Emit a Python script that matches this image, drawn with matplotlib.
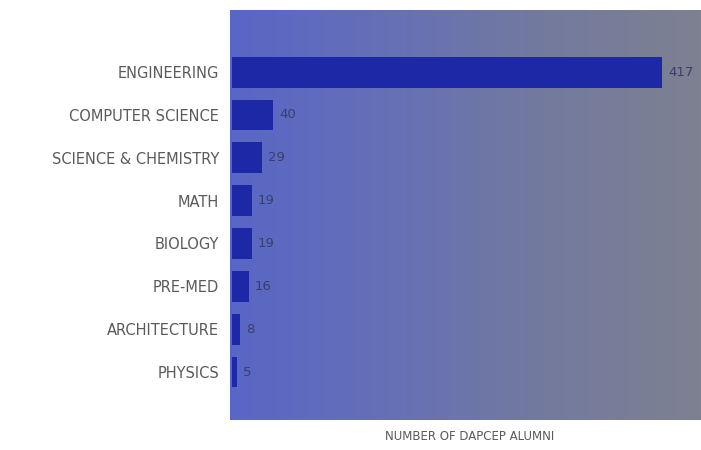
import numpy as np
import matplotlib
matplotlib.use("Agg")
import matplotlib.pyplot as plt
from matplotlib.colors import LinearSegmentedColormap

majors = ["ENGINEERING", "COMPUTER SCIENCE", "SCIENCE & CHEMISTRY", "MATH",
          "BIOLOGY", "PRE-MED", "ARCHITECTURE", "PHYSICS"]
alumni = [417, 40, 29, 19, 19, 16, 8, 5]

fig = plt.figure(figsize=(7.01, 4.5), dpi=100)
fig.patch.set_facecolor("white")
ax = fig.add_axes([230 / 701, 30 / 450, 471 / 701, 410 / 450])

# horizontal blue-to-grey gradient panel
grad = LinearSegmentedColormap.from_list(
    "panel", ["#5866c6", "#6670b6", "#737a9e", "#7e8191"])
ax.imshow(np.linspace(0, 1, 256)[None, :], cmap=grad, aspect="auto",
          extent=[0, 1, 0, 1], transform=ax.transAxes, zorder=0)

y = np.arange(len(majors))
ax.barh(y, alumni, height=0.72, color="#1c28a6", zorder=2)
for yi, v in zip(y, alumni):
    ax.text(v + 6, yi, str(v), va="center", ha="left", fontsize=9.5,
            color="#3a3f6a", zorder=3)

ax.set_xlim(-2, 455)
ax.set_ylim(len(majors) - 1 + 1.12, -1.45)
ax.set_yticks(y)
ax.set_yticklabels(majors, fontsize=10.5, color="#5a5a5a")
ax.tick_params(axis="y", length=0, pad=8)
ax.set_xticks([])
for s in ax.spines.values():
    s.set_visible(False)

fig.text(470 / 701, 1 - 437 / 450, "NUMBER OF DAPCEP ALUMNI", ha="center",
         va="center", fontsize=8.5, color="#5a5a5a")

fig.savefig("out.png", dpi=100)
